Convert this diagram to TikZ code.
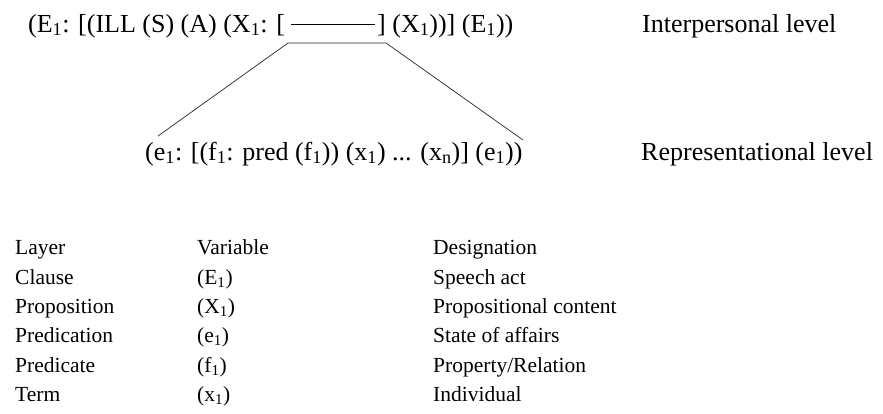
\documentclass[tikz,border=0pt]{standalone}
\usepackage{fontspec}
\setmainfont{Liberation Serif}
\begin{document}
\begin{tikzpicture}[x=1pt,y=-1pt,
  big/.style={inner sep=0pt,anchor=base west,font=\fontsize{26}{30}\selectfont},
  tab/.style={inner sep=0pt,anchor=base west,font=\fontsize{21.5}{26}\selectfont},
  link/.style={draw=black!85,line width=0.7pt}]
\useasboundingbox (0,0) rectangle (883,413);
% levels
\node[big] (top) at (28,32) {(E\textsubscript{1}: [(ILL (S) (A) (X\textsubscript{1}: [\hspace{0.25em}\rule[0.3em]{3.2em}{0.5pt}\hspace{0.1em}] (X\textsubscript{1}))] (E\textsubscript{1}))};
\node[big] (ilev) at (642,32) {Interpersonal level};
\node[big] (low) at (145,160) {(e\textsubscript{1}: [(f\textsubscript{1}: pred (f\textsubscript{1})) (x\textsubscript{1}) ... (x\textsubscript{n})] (e\textsubscript{1}))};
\node[big] (rlev) at (641,160) {Representational level};
% bracket connector
\coordinate (TL) at (288,43);
\coordinate (TR) at (386,43);
\coordinate (BL) at (158,136);
\coordinate (BR) at (523,140);
\draw[link] (BL) -- (TL) -- (TR) -- (BR);
% table
\foreach \y/\a/\b/\c [count=\i] in {
  254/Layer/Variable/Designation,
  284/Clause/(E\textsubscript{1})/Speech act,
  313/Proposition/(X\textsubscript{1})/Propositional content,
  342/Predication/(e\textsubscript{1})/State of affairs,
  372/Predicate/(f\textsubscript{1})/Property\slash Relation,
  401/Term/(x\textsubscript{1})/Individual}{
  \node[tab] (la\i) at (15,\y) {\a};
  \node[tab] (va\i) at (197,\y) {\b};
  \node[tab] (de\i) at (433,\y) {\c};
}
\end{tikzpicture}
\end{document}
